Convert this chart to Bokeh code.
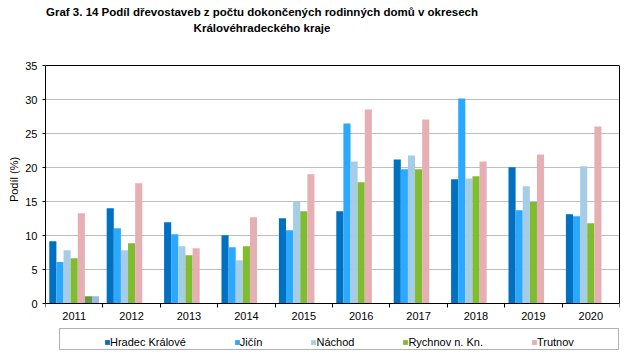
import numpy as np
from bokeh.plotting import figure
from bokeh.models import (Range1d, FixedTicker, Legend, LegendItem, BoxAnnotation, LinearAxis,
                          Label, Span)
from bokeh.embed import file_html
from bokeh.resources import INLINE

years = ["2011", "2012", "2013", "2014", "2015", "2016", "2017", "2018", "2019", "2020"]
hradec = [9.15, 14.0, 11.94, 10.03, 12.53, 13.56, 21.19, 18.26, 20.02, 13.12]
jicin = [6.1, 11.06, 10.18, 8.27, 10.77, 26.48, 19.73, 30.15, 13.7, 12.82]
nachod = [7.83, 7.83, 8.42, 6.36, 14.93, 20.9, 21.78, 18.4, 17.23, 20.17]
rychnov = [6.66, 8.86, 7.1, 8.42, 13.56, 17.82, 19.73, 18.7, 14.93, 11.8]
trutnov = [13.26, 17.67, 8.13, 12.68, 18.99, 28.54, 27.07, 20.9, 21.93, 26.04]
extra_a = [1.08] + [np.nan] * 9
extra_b = [1.08] + [np.nan] * 9

series_names = ["Hradec Králové", "Jičín", "Náchod", "Rychnov n. Kn.", "Trutnov", None, None]
series_values = [hradec, jicin, nachod, rychnov, trutnov, extra_a, extra_b]
colors = ["#0070C0", "#2BA8FF", "#A6CDE8", "#80BC30", "#E6AFB3", "#659B42", "#9DB9E2"]

title1 = "Graf 3. 14 Podíl dřevostaveb z počtu dokončených rodinných domů v okresech"
title2 = "Královéhradeckého kraje"
ylabel = "Podíl (%)"
y_max = 35

FONT = "Liberation Sans"

# layout (pixels)
W, H = 641, 358
FRAME_L, FRAME_R = 45, 619
PLOT_TOP = 65            # pixel row of value y_max
AXIS_Y0 = 303            # pixel row of value 0
px_per_unit = (AXIS_Y0 - PLOT_TOP) / y_max
y_min = -(H - AXIS_Y0) / px_per_unit
y_top = y_max + PLOT_TOP / px_per_unit

p = figure(width=W, height=H, output_backend="svg", toolbar_location=None,
           x_range=Range1d(0, len(years)), y_range=Range1d(y_min, y_top),
           min_border_left=FRAME_L, min_border_right=W - FRAME_R,
           min_border_top=0, min_border_bottom=0)
p.title = None
p.outline_line_color = None
p.background_fill_color = "white"
p.border_fill_color = "white"


def px_to_x(px):
    return (px - FRAME_L) / ((FRAME_R - FRAME_L) / len(years))


def px_to_y(py):
    return (AXIS_Y0 - py) / px_per_unit


# x axis at value 0 (the default bottom axis)
xa = p.below[0]
xa.fixed_location = 0
xa.ticker = FixedTicker(ticks=[i + 0.5 for i in range(len(years))],
                        minor_ticks=list(range(len(years) + 1)))
xa.major_label_overrides = {i + 0.5: y for i, y in enumerate(years)}
xa.major_tick_out = 0
xa.major_tick_in = 0
xa.minor_tick_out = 4
xa.minor_tick_in = 0
xa.minor_tick_line_color = "black"
xa.axis_line_color = "black"
xa.major_label_standoff = 4
xa.major_label_text_font = FONT
xa.major_label_text_font_size = "11px"
xa.major_label_text_color = "black"

ya = p.left[0]
ya.bounds = (0, y_max)
ya.ticker = FixedTicker(ticks=list(range(0, y_max + 1, 5)), minor_ticks=[])
ya.major_tick_out = 3
ya.major_tick_in = 0
ya.major_tick_line_color = "black"
ya.axis_line_color = "black"
ya.major_label_standoff = 5
ya.major_label_text_font = FONT
ya.major_label_text_font_size = "11px"
ya.major_label_text_color = "black"
ya.axis_label = ylabel
ya.axis_label_standoff = 2
ya.axis_label_text_font = FONT
ya.axis_label_text_font_size = "11px"
ya.axis_label_text_font_style = "normal"
ya.axis_label_text_color = "black"

# plot-area border on the right and on top
right_ax = LinearAxis(ticker=FixedTicker(ticks=[], minor_ticks=[]), axis_line_color="black",
                      bounds=(0, y_max),
                      major_tick_out=0, major_tick_in=0, minor_tick_out=0, minor_tick_in=0,
                      major_label_standoff=0, major_label_text_font_size="0px")
p.add_layout(right_ax, "right")
p.add_layout(Span(location=y_max, dimension="width", line_color="black", line_width=1))

# chart title (two lines)
for txt, py in [(title1, 11.5), (title2, 27.5)]:
    p.add_layout(Label(x=px_to_x(261.5), y=px_to_y(py), text=txt, text_align="center",
                       text_baseline="middle", text_font=FONT, text_font_size="11.5px",
                       text_font_style="bold", text_color="black"))

bw = 0.124
n = len(series_values)
renderers = []
for j, (vals, col) in enumerate(zip(series_values, colors)):
    xs = [i + 0.5 + (j - (n - 1) / 2) * bw for i in range(len(years))]
    r = p.vbar(x=xs, top=vals, bottom=0, width=bw, fill_color=col, line_color=None)
    renderers.append(r)

p.xgrid.visible = False
p.ygrid.grid_line_color = "#BEBEBE"
p.ygrid.grid_line_width = 1
p.ygrid.ticker = FixedTicker(ticks=list(range(5, y_max, 5)))

# legend below the axis, inside the extended frame
items = [LegendItem(label=nm, renderers=[r]) for nm, r in zip(series_names, renderers) if nm]
legend = Legend(items=items, orientation="horizontal", location=(59, 9),
                border_line_color=None, background_fill_alpha=0, padding=3, spacing=48,
                glyph_width=6, glyph_height=6, label_standoff=0, label_height=15,
                label_text_font=FONT, label_text_font_size="11px", label_text_color="black",
                margin=0)
p.add_layout(legend)

# legend frame
box = BoxAnnotation(left=px_to_x(59), right=px_to_x(618), top=px_to_y(328), bottom=px_to_y(349),
                    fill_alpha=0, line_color="black", line_width=1)
p.add_layout(box)

open("out.html", "w").write(file_html(p, INLINE))
